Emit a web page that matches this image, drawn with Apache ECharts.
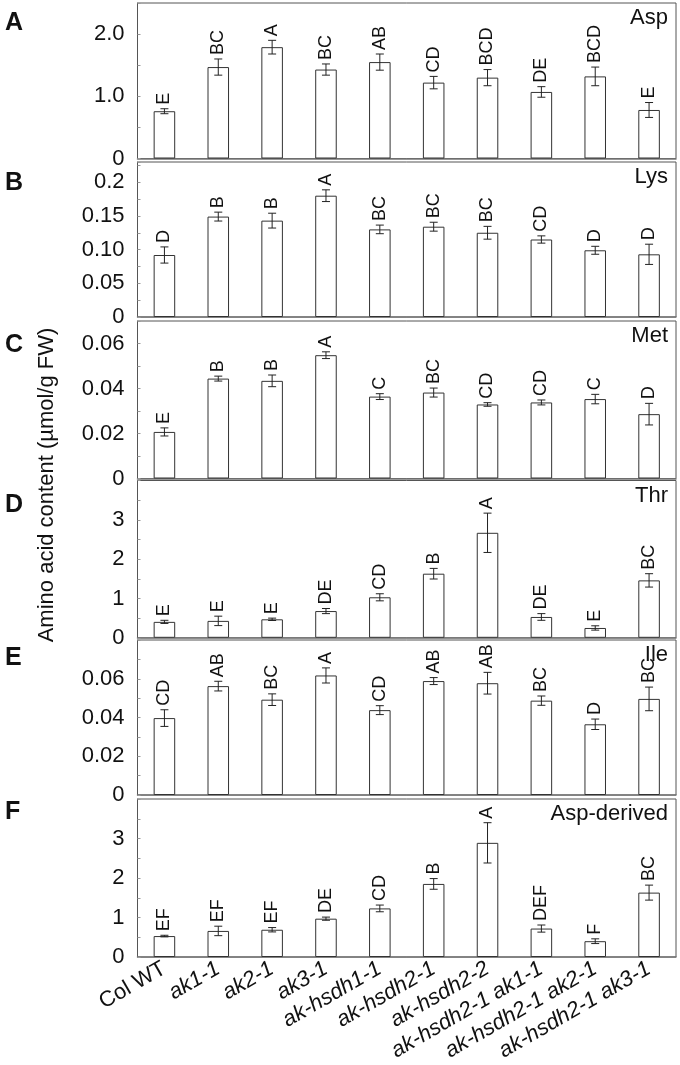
<!DOCTYPE html>
<html>
<head>
<meta charset="utf-8">
<script src="https://cdn.jsdelivr.net/npm/echarts@6/dist/echarts.min.js"></script>
<style>
html,body{margin:0;padding:0;background:#fff;}
#c{width:680px;height:1065px;}
</style>
</head>
<body>
<div id="c"></div>
<script>
const categories = ['Col WT','ak1-1','ak2-1','ak3-1','ak-hsdh1-1','ak-hsdh2-1','ak-hsdh2-2','ak-hsdh2-1 ak1-1','ak-hsdh2-1 ak2-1','ak-hsdh2-1 ak3-1'];

const aspMean = [0.76, 1.47, 1.79, 1.43, 1.55, 1.22, 1.30, 1.07, 1.32, 0.78];
const aspErr  = [0.04, 0.13, 0.11, 0.09, 0.13, 0.10, 0.13, 0.085, 0.15, 0.12];
const aspLetters = ['E','BC','A','BC','AB','CD','BCD','DE','BCD','E'];

const lysMean = [0.092, 0.149, 0.143, 0.180, 0.130, 0.134, 0.125, 0.115, 0.099, 0.093];
const lysErr  = [0.012, 0.0066, 0.011, 0.0087, 0.0064, 0.0066, 0.0095, 0.0054, 0.0059, 0.015];
const lysLetters = ['D','B','B','A','BC','BC','BC','CD','D','D'];

const metMean = [0.0207, 0.0444, 0.0434, 0.0548, 0.0364, 0.0382, 0.0329, 0.0338, 0.0353, 0.0286];
const metErr  = [0.0018, 0.0011, 0.0026, 0.0015, 0.0013, 0.0020, 0.0008, 0.0011, 0.0021, 0.0048];
const metLetters = ['E','B','B','A','C','BC','CD','CD','C','D'];

const thrMean = [0.405, 0.43, 0.47, 0.68, 1.03, 1.63, 2.67, 0.53, 0.25, 1.46];
const thrErr  = [0.04, 0.12, 0.03, 0.065, 0.09, 0.135, 0.50, 0.085, 0.055, 0.17];
const thrLetters = ['E','E','E','DE','CD','B','A','DE','E','BC'];

const ileMean = [0.0397, 0.0562, 0.0492, 0.0617, 0.0438, 0.0588, 0.0577, 0.0487, 0.0365, 0.0496];
const ileErr  = [0.0043, 0.0025, 0.0030, 0.0039, 0.0023, 0.0018, 0.0056, 0.0024, 0.0027, 0.0061];
const ileLetters = ['CD','AB','BC','A','CD','AB','AB','BC','D','BC'];

const derMean = [0.53, 0.66, 0.69, 0.97, 1.23, 1.85, 2.89, 0.72, 0.40, 1.63];
const derErr  = [0.02, 0.12, 0.055, 0.04, 0.085, 0.135, 0.51, 0.09, 0.06, 0.19];
const derLetters = ['EF','EF','EF','DE','CD','B','A','DEF','F','BC'];

const panelNames = ['Asp','Lys','Met','Thr','Ile','Asp-derived'];
const panelLetters = ['A','B','C','D','E','F'];

const aspTickValues = [0, 1, 2];           const aspTickLabels = ['0','1.0','2.0'];
const lysTickValues = [0, 0.05, 0.1, 0.15, 0.2]; const lysTickLabels = ['0','0.05','0.10','0.15','0.2'];
const metTickValues = [0, 0.02, 0.04, 0.06]; const metTickLabels = ['0','0.02','0.04','0.06'];
const thrTickValues = [0, 1, 2, 3];        const thrTickLabels = ['0','1','2','3'];
const ileTickValues = [0, 0.02, 0.04, 0.06]; const ileTickLabels = ['0','0.02','0.04','0.06'];
const derTickValues = [0, 1, 2, 3];        const derTickLabels = ['0','1','2','3'];

const yTitle = 'Amino acid content (µmol/g FW)';

const panels = [
  {mean: aspMean, err: aspErr, letters: aspLetters, tv: aspTickValues, tl: aspTickLabels, max: 2.5, step: 0.5, top: 3, height: 155.5},
  {mean: lysMean, err: lysErr, letters: lysLetters, tv: lysTickValues, tl: lysTickLabels, max: 0.23, step: 0.025, top: 162, height: 155},
  {mean: metMean, err: metErr, letters: metLetters, tv: metTickValues, tl: metTickLabels, max: 0.07, step: 0.01, top: 321, height: 157.5},
  {mean: thrMean, err: thrErr, letters: thrLetters, tv: thrTickValues, tl: thrTickLabels, max: 4, step: 0.5, top: 480.5, height: 157.3},
  {mean: ileMean, err: ileErr, letters: ileLetters, tv: ileTickValues, tl: ileTickLabels, max: 0.08, step: 0.01, top: 640, height: 155},
  {mean: derMean, err: derErr, letters: derLetters, tv: derTickValues, tl: derTickLabels, max: 4, step: 0.5, top: 799, height: 158}
];
const letterCenters = [23, 183, 345, 505, 658, 812];

const FONT = '"Liberation Sans", Arial, sans-serif';
const chart = echarts.init(document.getElementById('c'), null, {renderer: 'canvas'});

const grid = [], xAxis = [], yAxis = [], series = [], graphic = [];
panels.forEach((p, k) => {
  grid.push({left: 137.5, right: 4, top: p.top, height: p.height, show: true,
    borderColor: '#555', borderWidth: 1, backgroundColor: 'transparent', containLabel: false});
  const isLast = k === panels.length - 1;
  xAxis.push({type: 'category', gridIndex: k, data: categories,
    axisLine: {show: true, lineStyle: {color: '#777', width: 1.5}},
    axisTick: {show: false},
    axisLabel: isLast ? {
      show: true, rotate: 30, margin: 10, interval: 0,
      formatter: (v) => v === 'Col WT' ? '{n|' + v + '}' : '{i|' + v + '}',
      rich: {
        n: {fontFamily: FONT, fontSize: 22, color: '#111'},
        i: {fontFamily: FONT, fontSize: 22, fontStyle: 'italic', color: '#111'}
      }
    } : {show: false}
  });
  yAxis.push({type: 'value', gridIndex: k, min: 0, max: p.max, interval: p.step,
    splitLine: {show: false},
    axisLine: {show: true, lineStyle: {color: '#555'}},
    axisTick: {show: true, inside: true, length: 3, lineStyle: {color: '#999'}},
    axisLabel: {margin: 13, fontFamily: FONT, fontSize: 22, color: '#111',
      formatter: (val) => {
        const i = p.tv.findIndex(t => Math.abs(t - val) < 1e-9);
        return i >= 0 ? p.tl[i] : '';
      }}
  });
  series.push({type: 'bar', xAxisIndex: k, yAxisIndex: k, data: p.mean, barWidth: '40%',
    itemStyle: {color: '#fff', borderColor: '#333', borderWidth: 1}, silent: true, animation: false, z: 2});
  series.push({type: 'custom', xAxisIndex: k, yAxisIndex: k, animation: false, z: 5,
    data: p.mean.map((m, i) => [i, m, p.err[i]]),
    renderItem: (params, api) => {
      const i = api.value(0), m = api.value(1), e = api.value(2);
      const hi = api.coord([i, m + e]);
      const lo = api.coord([i, m - e]);
      const half = 4;
      const ls = {stroke: '#222', lineWidth: 1};
      return {type: 'group', children: [
        {type: 'line', shape: {x1: hi[0], y1: hi[1], x2: lo[0], y2: lo[1]}, style: ls},
        {type: 'line', shape: {x1: hi[0]-half, y1: hi[1], x2: hi[0]+half, y2: hi[1]}, style: ls},
        {type: 'line', shape: {x1: lo[0]-half, y1: lo[1], x2: lo[0]+half, y2: lo[1]}, style: ls},
        {type: 'text', x: hi[0], y: hi[1] - 4, rotation: Math.PI / 2,
          style: {text: p.letters[i], fontFamily: FONT, fontSize: 18, fill: '#111',
            align: 'left', verticalAlign: 'middle'}}
      ]};
    }
  });
  graphic.push({type: 'text', right: 12, top: p.top + 4,
    style: {text: panelNames[k], fontFamily: FONT, fontSize: 22, fill: '#111'}});
  graphic.push({type: 'text', left: 5, top: letterCenters[k] - 12,
    style: {text: panelLetters[k], fontFamily: FONT, fontSize: 25, fontWeight: 'bold', fill: '#111'}});
});
graphic.push({type: 'text', x: 47, y: 485, rotation: Math.PI / 2,
  style: {text: yTitle, fontFamily: FONT, fontSize: 22, fill: '#111', align: 'center', verticalAlign: 'middle'}});

chart.setOption({animation: false, backgroundColor: '#fff', grid, xAxis, yAxis, series, graphic});
</script>
</body>
</html>
